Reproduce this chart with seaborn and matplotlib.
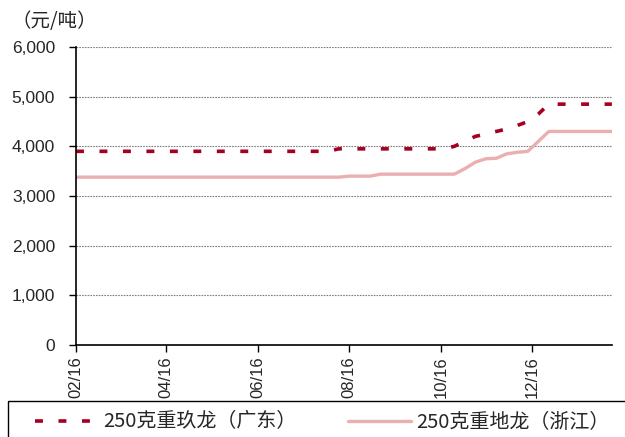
import pandas as pd
import matplotlib
matplotlib.use('Agg')
import matplotlib.pyplot as plt
import matplotlib.dates as mdates
from matplotlib.patches import Rectangle
from matplotlib.ticker import FuncFormatter
import seaborn as sns

# weekly prices, 元/吨
dates = pd.date_range('2016-02-01', periods=52, freq='7D')
jiulong_gd = [3900] * 25 + [3950] * 11 + [4000, 4100, 4200, 4250, 4300, 4350, 4420, 4500, 4650] + [4850] * 7
dilong_zj = [3380] * 26 + [3400] * 3 + [3440] * 8 + [3550, 3680, 3750, 3760, 3850, 3880, 3900, 4100] + [4300] * 7
labels = ['250克重玖龙（广东）', '250克重地龙（浙江）']

df = pd.DataFrame({'date': dates, labels[0]: jiulong_gd, labels[1]: dilong_zj})

sns.set_style('white')
plt.rcParams['font.family'] = ['Liberation Sans', 'Noto Sans CJK SC', 'DejaVu Sans']

fig = plt.figure(figsize=(6.25, 4.37), dpi=100)
ax = fig.add_axes([0.1216, 0.2105, 0.979 - 0.1216, 0.8924 - 0.2105])

sns.lineplot(data=df, x='date', y=labels[1], ax=ax, color='#EBAFAF', lw=2.4, label=labels[1])
sns.lineplot(data=df, x='date', y=labels[0], ax=ax, color='#A50021', lw=2.6, label=labels[0])
ax.lines[1].set_dashes((2.2, 4.3))
ax.lines[1].set_dash_capstyle('butt')

ax.set_ylim(0, 6000)
ax.set_yticks(range(0, 6001, 1000))
ax.yaxis.set_major_formatter(FuncFormatter(lambda v, p: f'{int(v):,}'))
ax.set_xlim(dates[0], dates[-1])
ax.xaxis.set_major_locator(mdates.MonthLocator(bymonth=[2, 4, 6, 8, 10, 12]))
ax.xaxis.set_major_formatter(mdates.DateFormatter('%m/%y'))
ax.set_xlabel('')
ax.set_ylabel('')
ax.grid(axis='y', color='#7f7f7f', linestyle=(0, (1.5, 1)), lw=0.8)
ax.set_axisbelow(True)
for s in ['top', 'right']:
    ax.spines[s].set_visible(False)
for s in ['left', 'bottom']:
    ax.spines[s].set_color('black')
    ax.spines[s].set_linewidth(1.2)
ax.tick_params(axis='both', direction='out', length=5, width=1, color='black', left=True, bottom=True)
ax.tick_params(axis='y', labelsize=12.5, pad=10)
ax.tick_params(axis='x', labelsize=12, pad=3)
plt.setp(ax.get_xticklabels(), rotation=90)

fig.text(54.5 / 625, 1 - 22 / 437, '（元/吨）', fontsize=14, va='center', ha='center', family=['Noto Sans CJK SC'])

# legend box runs off the right/bottom edge
fig.patches.append(Rectangle((8 / 625, -0.1), 1.0, 0.1 + 36 / 437, transform=fig.transFigure,
                             fill=False, edgecolor='black', lw=1.0))

ax.get_legend().remove()
h, l = ax.get_legend_handles_labels()
order = [1, 0]
leg = fig.legend([h[i] for i in order], [l[i] for i in order], loc='center left',
                 bbox_to_anchor=(35 / 625, 1 - 422 / 437), ncol=2, frameon=False,
                 borderpad=0, borderaxespad=0, handlelength=3.15, handletextpad=0.25,
                 columnspacing=2.6, prop={'family': ['Noto Sans CJK SC'], 'size': 14.4})

fig.savefig('out.png', dpi=100)
